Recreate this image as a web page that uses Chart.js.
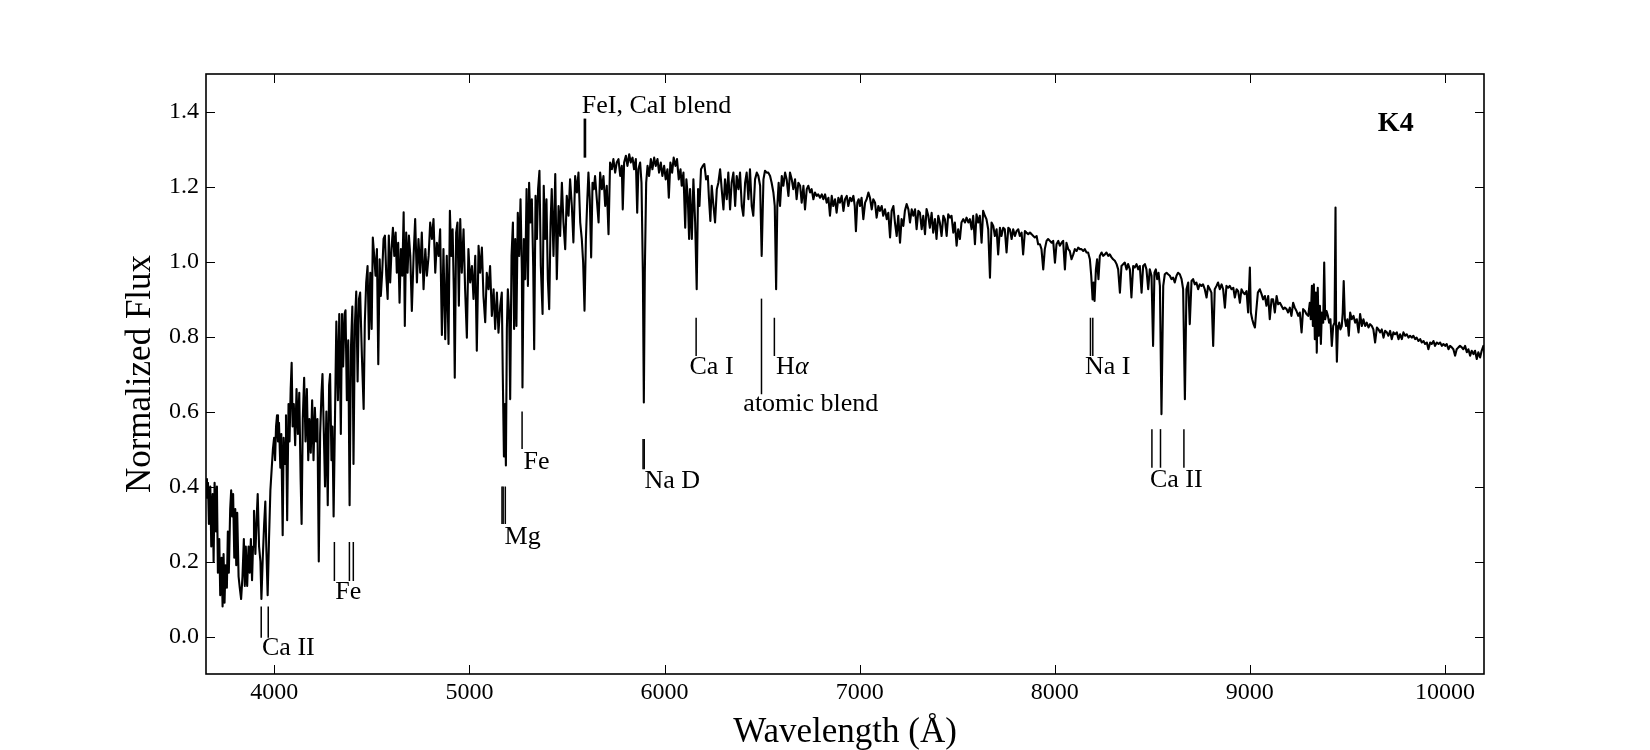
<!DOCTYPE html>
<html>
<head>
<meta charset="utf-8">
<title>Espectro K4</title>
<script src="https://cdn.jsdelivr.net/npm/chart.js@4.4.1/dist/chart.umd.min.js"></script>
<style>
    html, body { margin: 0; padding: 0; background: #fff; }
    canvas { display: block; }
</style>
</head>
<body>
<canvas id="spectrumChart" width="1650" height="750"></canvas>
<script>
// Datos del espectro (longitud de onda en Å, flujo normalizado)
const wavelength = [
    3650,3655,3660,3665,3672,3677,3684,3689,3694,3701,
    3706,3711,3718,3723,3730,3735,3740,3745,3750,3757,
    3762,3767,3774,3779,3784,3789,3795,3800,3805,3810,
    3817,3823,3830,3837,3844,3849,3854,3861,3868,3874,
    3880,3886,3891,3896,3903,3910,3915,3922,3929,3934,
    3941,3948,3954,3959,3966,3973,3980,3987,3993,
    3999,4004,4009,4014,4019,4024,4031,4036,4043,4048,
    4055,4060,4066,4073,4078,4084,4089,4094,4100,4107,
    4114,4121,4128,4135,4140,4146,4153,4160,4167,4174,
    4180,4187,4194,4201,4208,4214,4221,4228,4235,4242,
    4247,4254,4260,4267,4274,4281,4286,4293,4298,4304,
    4318,4326,4333,4341,4347,4353,4360,4365,4372,4379,
    4386,4393,4400,4406,4413,4420,4427,4434,
    4440,4449,4458,4464,4471,4478,4485,4492,4499,4505,
    4512,4519,4526,4533,4540,4546,4553,4560,4567,4574,
    4581,4587,4594,4601,4608,4615,4622,4628,4635,4642,
    4649,4656,4663,4669,4676,4683,4690,4697,4705,4714,
    4722,4731,4739,4748,4756,4765,4774,4782,4791,4799,
    4808,4816,4825,4833,4842,4850,4859,4867,4876,4884,
    4893,4900,4907,4914,4920,4925,4932,4939,4946,4953,
    4961,4970,4978,4987,4995,5004,5013,5021,5030,5038,
    5047,5055,5064,5072,5081,5089,5098,5106,5115,5124,
    5132,5141,5149,5158,5166,5171,5177,5182,5187,5192,
    5197,5204,5209,5216,5223,5229,
    5235,5241,5248,5255,5262,5269,5272,5279,5286,5293,
    5300,5306,5313,5320,5327,5332,5339,5346,5352,5359,
    5366,5375,5381,5388,5395,5402,5409,5416,5422,5431,
    5440,5448,5457,5465,5474,5482,5491,5499,5508,5516,
    5525,5533,5542,5551,5559,5568,5576,5583,5590,5597,
    5603,5610,5617,5624,5631,5638,5644,5653,5662,5670,
    5679,5687,5696,5704,5713,5721,5730,5738,5747,5755,
    5764,5773,5781,5786,5793,5802,5810,5819,5827,5836,
    5844,5853,5860,5866,5875,5882,5889,5894,5899,5906,
    5913,5921,5930,5938,5947,5955,5964,5972,5981,5989,
    5998,6006,6015,6022,6030,6039,6047,6056,6064,6073,
    6082,6088,6097,6106,6112,6119,6126,
    6131,6140,6148,6157,6165,6172,6179,6187,6196,6204,
    6213,6222,6228,6235,6242,6251,6259,6268,6276,6285,
    6293,6302,6310,6319,6327,6336,6344,6353,6362,6370,
    6379,6387,6396,6404,6413,6421,6430,6438,6447,6455,
    6464,6473,6481,6490,6498,6507,6515,6524,6532,6541,
    6549,6558,6565,6572,6578,6585,6592,6601,6609,6618,
    6626,6635,6643,6652,6660,6669,6677,6686,6695,6703,
    6712,6720,6729,6737,6746,6754,6763,6771,6780,6788,
    6797,6806,6814,6823,6831,6840,6848,6857,6865,6874,
    6882,6891,6899,6908,6917,6925,6934,6942,6951,6959,
    6968,6975,6981,6988,6995,7002,7010,7019,7028,7036,
    7045,7053,7062,7070,7079,7087,7096,7104,7113,7121,
    7130,7139,7147,7156,7164,7173,7181,7190,7198,7207,
    7215,7224,7232,7241,7250,7258,7267,7275,7284,7292,
    7301,
    7309,7318,7326,7335,7343,7352,7360,7369,7377,7386,
    7394,7403,7411,7420,7429,7437,7446,7454,7463,7471,
    7480,7488,7497,7505,7514,7522,7531,7540,7548,7557,
    7565,7574,7582,7591,7599,7608,7616,7625,7633,7642,
    7650,7659,7668,7676,7685,7693,7702,7710,7719,7727,
    7736,7744,7753,7762,7770,7779,7787,7796,7804,7813,
    7821,7830,7838,7847,7855,7864,7873,7881,7890,7898,
    7907,7915,7924,7932,7941,7949,7958,7966,7975,7984,
    7992,8001,8009,8018,8026,8035,8043,8052,8060,8069,
    8077,8086,8095,8103,8112,8120,8129,8137,8146,8154,
    8163,8171,8180,8187,8194,8199,8204,8211,8217,8224,
    8231,8240,8248,8257,8265,8274,8282,8291,8299,8308,
    8317,8325,8334,8342,8351,8359,8368,8376,8385,8393,
    8402,8410,8419,8428,8436,8445,8453,8462,8470,8479,
    8487,8496,8504,8511,8518,8525,8532,8539,
    8547,
    8556,8564,8573,8581,8590,8598,8607,8615,8624,8632,
    8641,8650,8658,8667,8675,8684,8692,8701,8709,
    8718,8726,8735,8743,8752,8760,8769,8778,8786,8795,
    8803,8812,8820,8829,8837,
    8846,8855,8863,8872,8880,8889,8897,8906,8915,8923,
    8932,8940,8949,8957,8966,8974,8983,8991,9000,9005,
    9012,9019,9026,9032,9041,9051,9060,9068,9077,9085,
    9094,9102,9111,9119,9128,9137,9145,9154,9162,9171,
    9179,9188,9196,9205,9213,9222,9230,9239,9248,9256,
    9265,9273,9282,9290,9299,9307,9312,9318,9323,9328,
    9333,9338,9343,9348,9353,9359,9364,9369,9376,9381,
    9386,9393,9400,9406,9413,9420,9427,9434,9439,9442,
    9446,9451,9458,9464,9471,9476,9481,9487,9493,9500,
    9507,9514,9522,9531,9540,9548,9557,9565,9574,9582,
    9591,9599,9608,9616,9625,9633,9642,9651,9659,9668,
    9676,9685,9693,9702,9710,9719,9727,9736,9744,9753,
    9762,9770,9779,9787,9796,9804,9813,9821,9830,9838,
    9847,9855,9864,9873,9881,9890,9898,9907,9915,9924,
    9932,9941,9949,9958,9967,9975,9984,9992,10001,10009,
    10018,10026,10035,10043,10052,10060,10069,10077,10086,10094,
    10103,10112,10120,10129,10137,10146,10154,10163,10171,10180,
    10188,10197,10205
];

const flux = [
    0.42,0.37,0.41,0.30,0.40,0.24,0.38,0.20,0.41,0.28,
    0.40,0.17,0.26,0.11,0.21,0.08,0.22,0.09,0.19,0.13,
    0.28,0.17,0.34,0.39,0.32,0.38,0.21,0.34,0.19,0.33,
    0.16,0.13,0.10,0.16,0.26,0.135,0.24,0.135,0.24,0.17,
    0.26,0.15,0.24,0.335,0.22,0.32,0.38,0.24,0.20,0.10,
    0.21,0.30,0.36,0.24,0.11,0.26,0.39,0.45,0.50,
    0.53,0.47,0.56,0.59,0.52,0.57,0.45,0.54,0.27,0.53,
    0.46,0.59,0.31,0.62,0.52,0.66,0.73,0.56,0.62,0.51,
    0.66,0.54,0.65,0.42,0.30,0.58,0.69,0.52,0.66,0.47,
    0.58,0.49,0.63,0.47,0.61,0.52,0.58,0.20,0.54,0.65,
    0.70,0.54,0.40,0.60,0.35,0.67,0.70,0.47,0.56,0.32,
    0.84,0.63,0.86,0.54,0.86,0.72,0.86,0.87,0.63,0.79,
    0.35,0.77,0.88,0.46,0.83,0.92,0.68,0.90,
    0.917,0.748,0.607,0.838,0.944,0.988,0.793,0.97,0.82,1.064,
    1.015,0.962,1.033,0.726,1.006,0.908,0.97,1.06,1.069,0.962,
    0.90,1.069,0.944,1.033,1.09,1.015,1.077,0.97,1.05,0.89,
    1.033,0.962,1.131,0.828,1.077,0.97,1.069,1.015,0.868,1.015,
    1.113,0.944,1.06,0.97,1.077,0.926,1.033,0.962,1.015,1.104,
    1.06,1.113,0.97,1.05,1.015,1.086,0.804,1.033,0.793,1.015,
    0.78,1.135,1.015,1.086,0.926,0.69,1.077,1.104,0.882,1.113,
    0.97,1.086,0.926,0.797,1.033,0.944,0.988,0.90,1.015,0.762,
    1.042,0.97,1.037,0.908,0.838,0.97,0.926,0.988,0.855,0.926,
    0.82,0.917,0.81,0.882,0.917,0.70,0.48,0.62,0.456,0.82,
    0.926,0.855,0.633,1.015,1.104,0.82,
    1.06,0.828,1.13,1.015,1.166,0.97,0.664,1.06,0.953,1.193,
    0.935,1.21,1.104,1.166,0.988,0.766,1.175,1.06,1.193,1.242,
    0.988,0.86,1.202,1.06,1.166,0.953,0.873,1.104,1.193,1.015,
    1.233,0.953,1.148,1.068,1.21,1.104,1.033,1.175,1.122,1.219,
    1.148,1.051,1.228,1.184,1.237,1.104,1.06,0.997,0.869,1.06,
    1.148,1.237,1.166,1.011,1.21,1.193,1.228,1.166,1.104,1.237,
    1.193,1.228,1.148,1.202,1.073,1.264,1.246,1.273,1.237,1.264,
    1.273,1.228,1.255,1.139,1.264,1.282,1.255,1.286,1.264,1.277,
    1.246,1.273,1.13,1.246,1.264,1.21,0.97,0.624,0.97,1.21,
    1.255,1.228,1.273,1.246,1.277,1.255,1.273,1.237,1.264,1.228,
    1.255,1.219,1.246,1.17,1.264,1.237,1.277,1.255,1.273,1.219,
    1.246,1.202,1.237,1.09,1.219,1.175,1.06,
    1.193,1.06,1.219,1.104,0.926,1.193,1.148,1.246,1.255,1.26,
    1.219,1.228,1.166,1.108,1.202,1.148,1.104,1.193,1.21,1.246,
    1.193,1.139,1.219,1.166,1.237,1.139,1.21,1.237,1.148,1.228,
    1.193,1.237,1.148,1.122,1.21,1.237,1.166,1.246,1.148,1.122,
    1.219,1.237,1.228,1.202,1.015,1.219,1.242,1.237,1.237,1.228,
    1.21,1.184,1.148,0.926,1.148,1.21,1.148,1.228,1.202,1.237,
    1.219,1.175,1.237,1.219,1.193,1.219,1.166,1.21,1.202,1.157,
    1.202,1.139,1.193,1.202,1.184,1.193,1.166,1.184,1.175,1.179,
    1.17,1.179,1.166,1.179,1.157,1.17,1.122,1.175,1.148,1.166,
    1.13,1.17,1.157,1.175,1.135,1.166,1.175,1.148,1.17,1.161,
    1.175,1.148,1.081,1.157,1.166,1.148,1.17,1.113,1.157,1.166,
    1.184,1.17,1.139,1.166,1.157,1.117,1.148,1.135,1.148,1.122,
    1.139,1.113,1.13,1.064,1.135,1.148,1.104,1.068,1.122,1.05,
    1.113,1.095,1.135,1.153,1.139,1.104,1.139,1.122,1.139,1.086,
    1.135,
    1.13,1.086,1.122,1.073,1.14,1.122,1.09,1.13,1.077,1.113,
    1.06,1.122,1.104,1.068,1.122,1.113,1.068,1.126,1.117,1.122,
    1.077,1.104,1.042,1.086,1.06,1.104,1.113,1.104,1.117,1.104,
    1.113,1.086,1.122,1.046,1.126,1.104,1.122,1.05,1.135,1.122,
    1.113,1.086,0.957,1.104,1.095,1.068,1.086,1.019,1.09,1.068,
    1.09,1.086,1.024,1.09,1.086,1.06,1.086,1.068,1.081,1.086,
    1.068,1.077,1.019,1.081,1.077,1.073,1.077,1.073,1.068,1.064,
    1.068,1.046,1.046,1.033,0.979,1.033,1.055,1.06,1.055,1.05,
    1.055,0.997,1.046,1.055,1.042,1.05,1.055,0.979,1.05,1.033,
    1.028,1.006,1.019,1.033,1.028,1.037,1.033,1.033,1.028,1.033,
    1.024,1.024,1.006,0.962,0.899,0.944,0.895,0.979,1.006,0.953,
    1.015,1.024,1.015,1.019,1.024,1.015,1.019,1.011,1.006,1.002,
    0.993,0.979,0.917,0.988,0.993,0.997,0.979,0.993,0.979,0.904,
    0.988,0.984,0.993,0.979,0.988,0.917,0.988,0.993,0.979,0.926,
    0.979,0.962,0.775,0.97,0.979,0.953,0.97,0.935,
    0.593,
    0.935,0.966,0.97,0.966,0.962,0.953,0.957,0.944,0.962,0.97,
    0.966,0.953,0.926,0.633,0.926,0.944,0.833,0.948,0.953,
    0.939,0.944,0.926,0.939,0.935,0.939,0.926,0.904,0.935,0.926,
    0.917,0.775,0.926,0.935,0.944,
    0.926,0.939,0.926,0.877,0.935,0.930,0.935,0.926,0.930,0.904,
    0.926,0.921,0.89,0.926,0.917,0.913,0.921,0.864,0.984,0.864,
    0.846,0.833,0.824,0.864,0.917,0.926,0.913,0.899,0.908,0.882,
    0.908,0.846,0.899,0.899,0.864,0.908,0.886,0.89,0.882,0.873,
    0.877,0.873,0.864,0.877,0.855,0.89,0.877,0.868,0.855,0.864,
    0.811,0.873,0.868,0.86,0.855,0.89,0.846,0.935,0.828,0.939,
    0.793,0.917,0.757,0.930,0.802,0.882,0.780,0.864,0.837,0.997,
    0.846,0.868,0.855,0.837,0.846,0.775,0.828,0.837,1.144,0.828,
    0.733,0.819,0.837,0.819,0.828,0.864,0.948,0.846,0.828,0.846,
    0.802,0.864,0.846,0.855,0.837,0.846,0.811,0.86,0.828,0.846,
    0.828,0.837,0.824,0.833,0.828,0.819,0.784,0.824,0.819,0.811,
    0.819,0.797,0.815,0.811,0.802,0.815,0.793,0.811,0.806,0.811,
    0.793,0.806,0.793,0.811,0.802,0.806,0.797,0.802,0.797,0.802,
    0.793,0.797,0.788,0.793,0.784,0.788,0.780,0.784,0.766,0.784,
    0.780,0.788,0.775,0.784,0.780,0.784,0.775,0.780,0.775,0.780,
    0.766,0.775,0.771,0.766,0.749,0.766,0.771,0.775,0.771,0.766,
    0.775,0.758,0.766,0.749,0.762,0.753,0.762,0.740,0.758,0.744,
    0.762,0.775,0.740
];

// Ejes
const xTicks = [4000, 5000, 6000, 7000, 8000, 9000, 10000];
const yTicks = [0.0, 0.2, 0.4, 0.6, 0.8, 1.0, 1.2, 1.4];

// Marcas de líneas espectrales (segmentos verticales)
const markerWave = [3933, 3969, 4308, 4385, 4405, 5167, 5173, 5184, 5270, 5589, 5595,
                    5890, 5896, 6162, 6497, 6563, 8183, 8195, 8498, 8542, 8662];
const markerLow  = [-0.003, -0.003, 0.148, 0.148, 0.148, 0.30, 0.30, 0.30, 0.50, 1.277, 1.277,
                    0.446, 0.446, 0.748, 0.646, 0.748, 0.748, 0.748, 0.45, 0.45, 0.45];
const markerHigh = [0.08, 0.08, 0.252, 0.252, 0.252, 0.40, 0.40, 0.40, 0.60, 1.381, 1.381,
                    0.527, 0.527, 0.85, 0.901, 0.85, 0.85, 0.85, 0.553, 0.553, 0.553];

// Etiquetas de las líneas
const labelText = ['Ca II', 'Fe', 'Mg', 'Fe', 'FeI, CaI blend', 'Na D', 'Ca I', 'atomic blend', 'Hα', 'Na I', 'Ca II'];
const labelWave = [3937, 4312, 5180, 5277, 5576, 5897, 6128, 6404, 6572, 8155, 8488];
const labelFlux = [-0.05, 0.101, 0.246, 0.448, 1.397, 0.397, 0.70, 0.602, 0.70, 0.70, 0.40];

const FONT = '"Liberation Serif", "Times New Roman", serif';

// Marco y ticks hacia dentro en los cuatro lados
const frameTicks = {
    id: 'frameTicks',
    afterDraw(chart) {
        const { ctx, chartArea: a, scales: { x, y } } = chart;
        ctx.save();
        ctx.strokeStyle = '#000';
        ctx.lineWidth = 1;
        ctx.beginPath();
        xTicks.forEach(v => {
            const px = Math.round(x.getPixelForValue(v)) + 0.5;
            ctx.moveTo(px, a.bottom); ctx.lineTo(px, a.bottom - 9);
            ctx.moveTo(px, a.top); ctx.lineTo(px, a.top + 9);
        });
        yTicks.forEach(v => {
            const py = Math.round(y.getPixelForValue(v)) + 0.5;
            ctx.moveTo(a.left, py); ctx.lineTo(a.left + 9, py);
            ctx.moveTo(a.right, py); ctx.lineTo(a.right - 9, py);
        });
        ctx.stroke();
        ctx.lineWidth = 1.6;
        ctx.strokeRect(a.left, a.top, a.right - a.left, a.bottom - a.top);
        ctx.restore();
    }
};

// Marcas y etiquetas de identificación de líneas
const annotate = {
    id: 'annotate',
    afterDatasetsDraw(chart) {
        const { ctx, scales: { x, y } } = chart;
        ctx.save();
        ctx.strokeStyle = '#000';
        ctx.lineWidth = 1.5;
        markerWave.forEach((w, i) => {
            const px = x.getPixelForValue(w);
            ctx.beginPath();
            ctx.moveTo(px, y.getPixelForValue(markerLow[i]));
            ctx.lineTo(px, y.getPixelForValue(markerHigh[i]));
            ctx.stroke();
        });

        ctx.fillStyle = '#000';
        ctx.textBaseline = 'alphabetic';
        ctx.textAlign = 'left';
        labelText.forEach((t, i) => {
            let px = x.getPixelForValue(labelWave[i]);
            const py = y.getPixelForValue(labelFlux[i]);
            ctx.font = '26px ' + FONT;
            if (t.endsWith('α')) {
                const head = t.slice(0, -1);
                ctx.fillText(head, px, py);
                px += ctx.measureText(head).width;
                ctx.font = 'italic 26px ' + FONT;
                ctx.fillText('α', px, py);
            } else {
                ctx.fillText(t, px, py);
            }
        });

        ctx.font = 'bold 28px ' + FONT;
        ctx.fillText('K4', x.getPixelForValue(9656), y.getPixelForValue(1.348));
        ctx.restore();
    }
};

const points = wavelength.map((w, i) => ({ x: w, y: flux[i] }));

const ctx = document.getElementById('spectrumChart').getContext('2d');
new Chart(ctx, {
    type: 'line',
    data: {
        datasets: [{
            data: points,
            borderColor: '#000',
            borderWidth: 2.1,
            borderJoinStyle: 'round',
            pointRadius: 0,
            tension: 0,
            fill: false
        }]
    },
    options: {
        responsive: false,
        animation: false,
        devicePixelRatio: 1,
        layout: { padding: { top: 74, right: 166, bottom: 0, left: 0 } },
        plugins: {
            legend: { display: false },
            tooltip: { enabled: false }
        },
        scales: {
            x: {
                type: 'linear',
                min: 3650,
                max: 10200,
                afterFit: s => { s.height = 76; },
                afterBuildTicks: s => { s.ticks = xTicks.map(v => ({ value: v })); },
                grid: { display: false, drawTicks: false },
                border: { display: false },
                ticks: {
                    padding: 4,
                    color: '#000',
                    autoSkip: false,
                    maxRotation: 0,
                    font: { family: FONT, size: 24 },
                    callback: v => String(v)
                },
                title: {
                    display: true,
                    text: 'Wavelength (Å)',
                    color: '#000',
                    font: { family: FONT, size: 35, lineHeight: 1 },
                    padding: 0
                }
            },
            y: {
                type: 'linear',
                min: -0.1,
                max: 1.5,
                afterFit: s => { s.width = 206; },
                afterBuildTicks: s => { s.ticks = yTicks.map(v => ({ value: v })); },
                grid: { display: false, drawTicks: false },
                border: { display: false },
                ticks: {
                    padding: 7,
                    color: '#000',
                    font: { family: FONT, size: 24 },
                    callback: v => v.toFixed(1)
                },
                title: {
                    display: true,
                    text: 'Normalized Flux',
                    color: '#000',
                    font: { family: FONT, size: 35, lineHeight: 1 },
                    padding: { top: 123, bottom: 0 }
                }
            }
        }
    },
    plugins: [frameTicks, annotate]
});
</script>
</body>
</html>
